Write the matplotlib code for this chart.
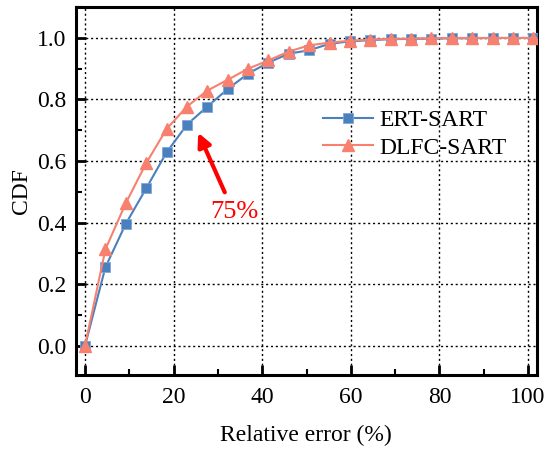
import numpy as np
import matplotlib.pyplot as plt
from matplotlib.ticker import MultipleLocator

plt.rcParams['font.family'] = ['Liberation Serif', 'DejaVu Serif']
plt.rcParams['mathtext.fontset'] = 'stix'

# relative error bins (%)
err = [0, 4.6, 9.2, 13.8, 18.4, 23.0, 27.6, 32.2, 36.8, 41.4, 46.0, 50.6,
       55.2, 59.8, 64.4, 69.0, 73.6, 78.2, 82.8, 87.4, 92.0, 96.6, 101.2]

cdf_ert = [0.0, 0.255, 0.396, 0.511, 0.628, 0.718, 0.777, 0.834, 0.884, 0.920,
           0.949, 0.960, 0.981, 0.989, 0.993, 0.996, 0.997, 0.998, 0.999, 0.999,
           1.0, 1.0, 1.0]
cdf_dlfc = [0.0, 0.313, 0.463, 0.593, 0.704, 0.777, 0.829, 0.864, 0.900, 0.927,
            0.956, 0.976, 0.985, 0.991, 0.995, 0.997, 0.998, 0.999, 1.0, 1.0,
            1.0, 1.0, 1.0]

fig = plt.figure(figsize=(5.45, 4.5), dpi=100)
ax = fig.add_axes([0.139, 0.167, 0.846, 0.817])

ax.plot(err, cdf_ert, color='#4a80bd', marker='s', ms=7.5, lw=1.5,
        mec='#7fa6d6', mew=0.6, label='ERT-SART', zorder=3)
ax.plot(err, cdf_dlfc, color='#f8806f', marker='^', ms=8.5, lw=1.5,
        mec='#f8806f', label='DLFC-SART', zorder=4)

ax.set_xlim(-2.1, 102)
ax.set_ylim(-0.095, 1.1)
ax.xaxis.set_major_locator(MultipleLocator(20))
ax.xaxis.set_minor_locator(MultipleLocator(10))
ax.yaxis.set_major_locator(MultipleLocator(0.2))
ax.yaxis.set_minor_locator(MultipleLocator(0.1))
ax.yaxis.set_major_formatter(plt.FuncFormatter(lambda v, p: '%.1f' % v))

ax.grid(True, which='major', color='black', ls=(0, (1.5, 2)), lw=1.0)
ax.tick_params(which='major', direction='in', length=7, width=2, labelsize=17,
               top=False, right=False)
ax.tick_params(axis='x', which='major', pad=9)
ax.tick_params(axis='y', which='major', pad=7)
ax.tick_params(which='minor', direction='in', length=4, width=1.5,
               top=False, right=False)
for s in ax.spines.values():
    s.set_linewidth(2.2)

ax.set_xlabel('Relative error (%)', fontsize=17, labelpad=12)
ax.set_ylabel('CDF', fontsize=17, labelpad=3)

ax.legend(loc='center left', bbox_to_anchor=(0.49, 0.655), frameon=False,
          fontsize=17, handlelength=2.1, handletextpad=0.3, labelspacing=0.25)

ax.annotate('', xy=(25.3, 0.70), xytext=(31.8, 0.49),
            arrowprops=dict(arrowstyle='-|>,head_length=0.8,head_width=0.4',
                            color='red', lw=3))
ax.text(33.8, 0.435, '75%', color='red', fontsize=19, ha='center', va='center')

fig.savefig('out.png', dpi=100)
